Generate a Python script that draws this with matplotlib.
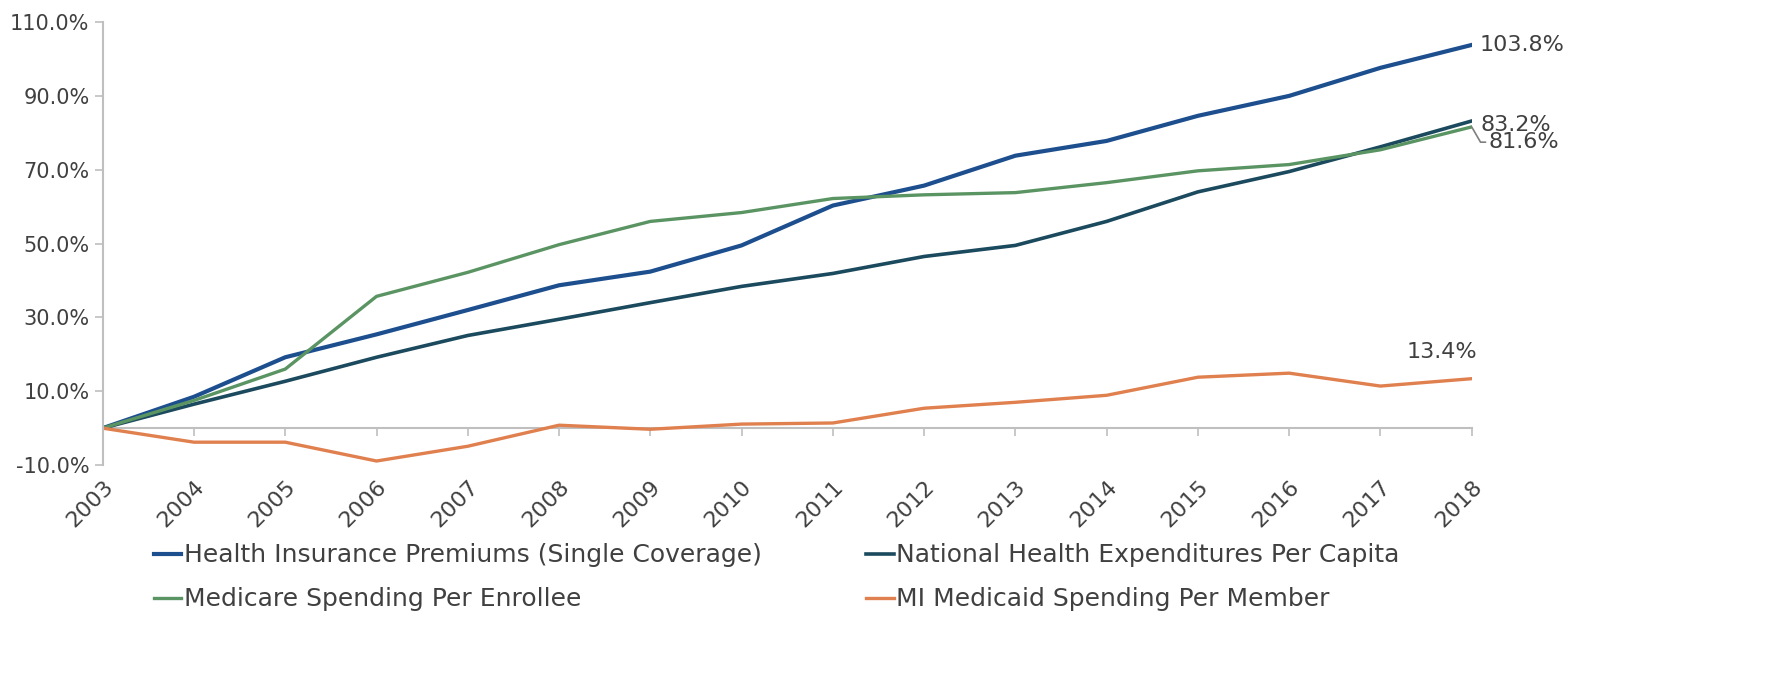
import numpy as np
import matplotlib.pyplot as plt

# Cumulative growth since 2003 (%)
years = list(range(2003, 2019))
premiums = [0, 8.5, 19.2, 25.4, 32.0, 38.7, 42.4, 49.5, 60.3, 65.7, 73.8, 77.8, 84.6, 90.0, 97.6, 103.8]
nhe = [0, 6.5, 12.7, 19.2, 25.1, 29.5, 34.0, 38.4, 41.9, 46.5, 49.5, 56.0, 64.0, 69.5, 76.2, 83.2]
medicare = [0, 7.5, 16.0, 35.7, 42.2, 49.7, 56.0, 58.4, 62.2, 63.2, 63.8, 66.5, 69.7, 71.4, 75.4, 81.6]
medicaid = [0, -3.8, -3.8, -8.9, -4.9, 0.8, -0.3, 1.1, 1.4, 5.4, 7.0, 8.9, 13.8, 14.9, 11.4, 13.4]

labels = ["Health Insurance Premiums (Single Coverage)",
          "National Health Expenditures Per Capita",
          "Medicare Spending Per Enrollee",
          "MI Medicaid Spending Per Member"]
colors = ["#1d4f8f", "#1b4a5e", "#5b9463", "#e0804f"]

plt.rcParams["font.family"] = ["DejaVu Sans"]
text_color = "#404040"

fig = plt.figure(figsize=(17.71, 6.89), dpi=100)
ax = fig.add_axes([0.058, 0.325, 0.773, 0.643])

series = [premiums, nhe, medicare, medicaid]
widths = [3, 2.6, 2.4, 2.4]
lines = []
for vals, lab, col, lw in zip(series, labels, colors, widths):
    ln, = ax.plot(years, vals, color=col, lw=lw, label=lab)
    lines.append(ln)

ax.set_xlim(2003, 2018)
ax.set_ylim(-10, 110)
ax.set_yticks(np.arange(-10, 111, 20))
ax.set_yticklabels([f"{v:.1f}%" for v in np.arange(-10, 111, 20)])
ax.set_xticks(years)
ax.set_xticklabels([str(y) for y in years], rotation=45, ha="right", rotation_mode="anchor")

for s in ["top", "right", "bottom"]:
    ax.spines[s].set_visible(False)
ax.spines["left"].set_color("#bfbfbf")
ax.spines["left"].set_linewidth(1.5)
ax.tick_params(axis="y", colors="#bfbfbf", labelcolor=text_color, labelsize=15, length=6, width=1.2)
ax.tick_params(axis="x", length=0, labelcolor=text_color, labelsize=16, pad=8)

# category axis crossing at zero
zero_ax = ax.secondary_xaxis(10 / 120)
zero_ax.set_xticks(years)
zero_ax.set_xticklabels([])
zero_ax.spines["bottom"].set_color("#bfbfbf")
zero_ax.spines["bottom"].set_linewidth(1.5)
zero_ax.tick_params(axis="x", colors="#bfbfbf", length=6, width=1.2)
ax.set_zorder(1)
ax.patch.set_alpha(0)

# end labels
ax.annotate(f"{premiums[-1]:.1f}%", (years[-1], premiums[-1]), xytext=(6, 0),
            textcoords="offset points", va="center", fontsize=16, color=text_color, annotation_clip=False)
ax.annotate(f"{nhe[-1]:.1f}%", (years[-1], nhe[-1]), xytext=(6, -3),
            textcoords="offset points", va="center", fontsize=16, color=text_color, annotation_clip=False)
ax.annotate(f"{medicare[-1]:.1f}%", (years[-1], medicare[-1]), xytext=(12, -11),
            textcoords="offset points", va="center", fontsize=16, color=text_color, annotation_clip=False,
            arrowprops=dict(arrowstyle="-", color="#7f7f7f", lw=1.2, shrinkA=0, shrinkB=0,
                            connectionstyle="angle,angleA=0,angleB=-60,rad=0"))
ax.annotate(f"{medicaid[-1]:.1f}%", (years[-1], medicaid[-1]), xytext=(4, 12),
            textcoords="offset points", ha="right", va="bottom", fontsize=16, color=text_color,
            annotation_clip=False)

# legend rows: premiums / nhe, then medicare / medicaid
order = [0, 2, 1, 3]
fig.legend(handles=[lines[i] for i in order], loc="upper left", bbox_to_anchor=(0.074, 0.244), ncol=2,
           frameon=False, fontsize=18, handlelength=1.1, handletextpad=0.1,
           columnspacing=4.2, labelspacing=0.8, labelcolor=text_color)

fig.savefig("out.png", dpi=100)
